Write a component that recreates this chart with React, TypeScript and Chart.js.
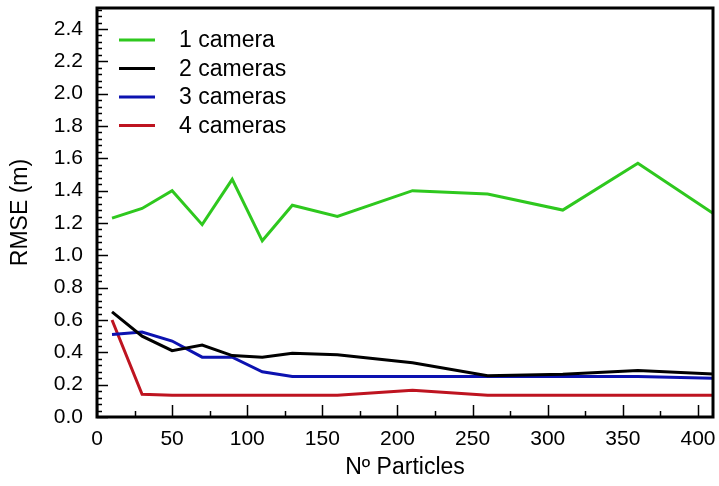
import React, { useEffect, useRef } from "react";
import { Chart, registerables } from "chart.js";

Chart.register(...registerables);

// ---- data ----
const particles = [10, 30, 50, 70, 90, 110, 130, 160, 210, 260, 310, 360, 410];
const cam1 = [1.23, 1.29, 1.4, 1.19, 1.47, 1.09, 1.31, 1.24, 1.4, 1.38, 1.28, 1.57, 1.26];
const cam2 = [0.65, 0.5, 0.41, 0.445, 0.38, 0.37, 0.395, 0.385, 0.335, 0.255, 0.264, 0.287, 0.266];
const cam3 = [0.51, 0.525, 0.47, 0.37, 0.37, 0.28, 0.25, 0.25, 0.25, 0.25, 0.25, 0.25, 0.24];
const cam4 = [0.6, 0.14, 0.135, 0.135, 0.135, 0.135, 0.135, 0.135, 0.165, 0.135, 0.135, 0.135, 0.135];
const seriesLabels = ["1 camera", "2 cameras", "3 cameras", "4 cameras"];
const seriesColors = ["#2ec81e", "#000000", "#0c12b0", "#be1420"];
const xTitle = "Nº Particles";
const yTitle = "RMSE (m)";

const FONT = "'Liberation Sans', Arial, Helvetica, sans-serif";
const X_MAX = 410;
const Y_MAX = 2.53;
const Y_MINOR = 0.04;
const X_MINOR = 25;

const frameTicks = {
  id: "frameTicks",
  afterDatasetsDraw(chart: any) {
    const { ctx, chartArea: a, scales } = chart;
    const x = scales.x;
    const y = scales.y;
    ctx.save();
    ctx.strokeStyle = "#000";
    ctx.lineWidth = 1.5;
    for (let i = 0; ; i++) {
      const v = i * Y_MINOR;
      if (v > y.max + 1e-9) break;
      const p = Math.round(y.getPixelForValue(v)) + 0.5;
      const major = i % 5 === 0;
      ctx.beginPath();
      ctx.moveTo(a.left, p);
      ctx.lineTo(a.left + (major ? 11 : 5), p);
      ctx.stroke();
    }
    for (let i = 0; ; i++) {
      const v = i * X_MINOR;
      if (v > x.max + 1e-9) break;
      const p = Math.round(x.getPixelForValue(v)) + 0.5;
      const major = i % 2 === 0;
      ctx.beginPath();
      ctx.moveTo(p, a.bottom);
      ctx.lineTo(p, a.bottom - (major ? 12 : 6));
      ctx.stroke();
    }
    ctx.lineWidth = 3;
    ctx.strokeRect(a.left, a.top, a.right - a.left, a.bottom - a.top);
    ctx.restore();
  },
};

const innerLegend = {
  id: "innerLegend",
  afterDraw(chart: any) {
    const { ctx, chartArea: a } = chart;
    ctx.save();
    ctx.font = `23px ${FONT}`;
    ctx.textBaseline = "middle";
    ctx.fillStyle = "#000";
    chart.data.datasets.forEach((ds: any, i: number) => {
      const yy = a.top + 32 + i * 28.5;
      ctx.strokeStyle = ds.borderColor;
      ctx.lineWidth = 3;
      ctx.beginPath();
      ctx.moveTo(a.left + 22, yy);
      ctx.lineTo(a.left + 58, yy);
      ctx.stroke();
      ctx.fillText(ds.label, a.left + 82, yy + 1);
    });
    ctx.restore();
  },
};

export default function App() {
  const ref = useRef<HTMLCanvasElement | null>(null);
  useEffect(() => {
    if (!ref.current) return;
    const all = [cam1, cam2, cam3, cam4];
    const chart = new Chart(ref.current, {
      type: "line",
      data: {
        datasets: all.map((vals, i) => ({
          label: seriesLabels[i],
          data: particles.map((p, j) => ({ x: p, y: vals[j] })),
          borderColor: seriesColors[i],
          backgroundColor: seriesColors[i],
          borderWidth: 3,
          pointRadius: 0,
          tension: 0,
          fill: false,
        })),
      },
      options: {
        responsive: false,
        animation: false,
        layout: { padding: { top: 8, right: 6, left: 0, bottom: 0 } },
        plugins: { legend: { display: false }, tooltip: { enabled: false } },
        scales: {
          x: {
            type: "linear",
            min: 0,
            max: X_MAX,
            grid: { display: false, drawTicks: false },
            border: { display: false },
            ticks: {
              stepSize: 50,
              includeBounds: false,
              maxRotation: 0,
              padding: 10,
              color: "#000",
              font: { family: FONT, size: 21 },
            },
            title: {
              display: true,
              text: xTitle,
              color: "#000",
              font: { family: FONT, size: 23 },
              padding: { top: 0, bottom: 5 },
            },
            afterFit: (s: any) => {
              s.height = 69;
              s.paddingLeft = 0;
              s.paddingRight = 0;
            },
          },
          y: {
            type: "linear",
            min: 0,
            max: Y_MAX,
            grid: { display: false, drawTicks: false },
            border: { display: false },
            ticks: {
              stepSize: 0.2,
              includeBounds: false,
              padding: 14,
              color: "#000",
              font: { family: FONT, size: 21 },
              callback: (v: any) => Number(v).toFixed(1),
            },
            title: {
              display: true,
              text: yTitle,
              color: "#000",
              font: { family: FONT, size: 23 },
              padding: { top: 7, bottom: 0 },
            },
            afterFit: (s: any) => {
              s.width = 97;
              s.paddingTop = 0;
              s.paddingBottom = 0;
            },
          },
        },
      },
      plugins: [frameTicks, innerLegend],
    });
    return () => chart.destroy();
  }, []);
  return (
    <div style={{ position: "fixed", left: 0, top: 0, width: 719, height: 486, background: "#fff" }}>
      <canvas ref={ref} width={719} height={486} style={{ display: "block" }} />
    </div>
  );
}
